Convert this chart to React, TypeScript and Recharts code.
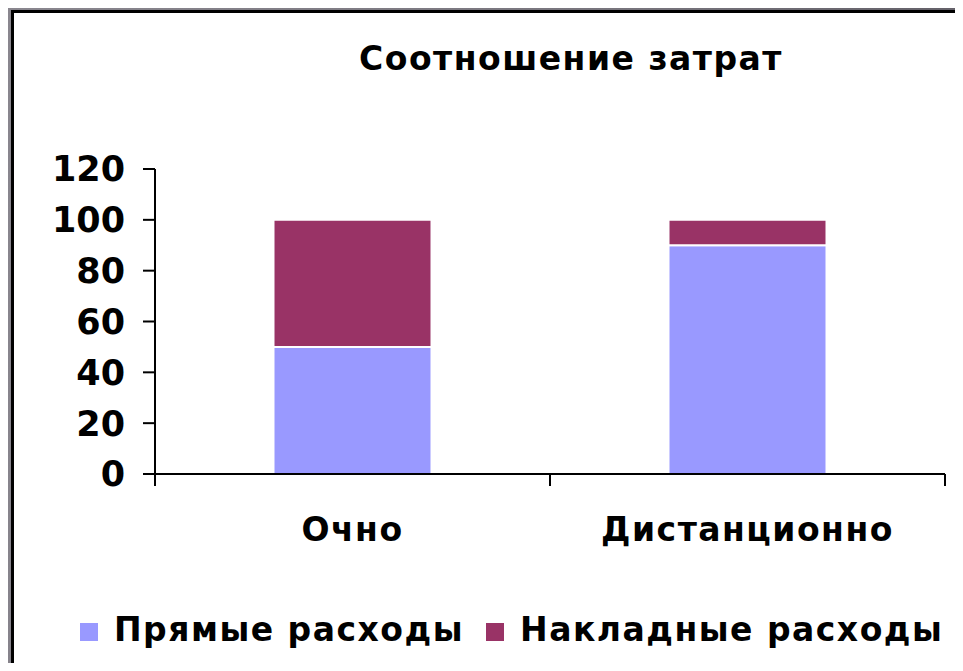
import { Bar, BarChart, Legend, XAxis, YAxis } from "recharts";

const categories = ["Очно", "Дистанционно"];
const directCosts = [50, 90];
const overheadCosts = [50, 10];
const seriesNames = ["Прямые расходы", "Накладные расходы"];
const yTicks = [0, 20, 40, 60, 80, 100, 120];

const data = categories.map((name, i) => ({
  name,
  direct: directCosts[i],
  overhead: overheadCosts[i],
}));

const FONT = "'DejaVu Sans', Verdana, sans-serif";
const W = 963;
const H = 671;
const TICK = 12;

function CategoryTick(props: any) {
  const { x, y, payload, index, visibleTicksCount } = props;
  const half = payload.offset ?? 0;
  const axisY = y - TICK;
  const isLast = index === visibleTicksCount - 1;
  return (
    <g>
      <line x1={x - half} x2={x - half} y1={axisY} y2={axisY + TICK} stroke="#000" strokeWidth={2} />
      {isLast && (
        <line x1={x + half} x2={x + half} y1={axisY} y2={axisY + TICK} stroke="#000" strokeWidth={2} />
      )}
      <text
        x={x}
        y={axisY + 67}
        textAnchor="middle"
        fontFamily={FONT}
        fontWeight="bold"
        fontSize={33}
        letterSpacing={1.5}
        fill="#000"
      >
        {payload.value}
      </text>
    </g>
  );
}

function LegendContent(props: any) {
  const items = [...(props.payload || [])].sort(
    (a: any, b: any) => seriesNames.indexOf(a.value) - seriesNames.indexOf(b.value)
  );
  return (
    <div style={{ display: "flex", alignItems: "center", height: 40 }}>
      {items.map((p: any) => (
        <div key={p.value} style={{ display: "flex", alignItems: "center", marginRight: 22 }}>
          <span
            style={{ width: 18, height: 18, background: p.color, marginRight: 16, marginTop: 6, display: "inline-block" }}
          />
          <span
            style={{
              fontFamily: FONT,
              fontWeight: "bold",
              fontSize: 33,
              letterSpacing: 1.5,
              color: "#000",
              whiteSpace: "nowrap",
            }}
          >
            {p.value}
          </span>
        </div>
      ))}
    </div>
  );
}

export default function App() {
  return (
    <div
      style={{
        position: "relative",
        margin: -8,
        width: W,
        height: H,
        overflow: "hidden",
        background: "linear-gradient(100deg, #8a878f 0%, #77747c 60%, #5d5a62 100%)",
      }}
    >
      <div
        style={{
          position: "absolute",
          left: 11,
          top: 10,
          width: W,
          height: H,
          background: "#fff",
          borderLeft: "3px solid #000",
          borderTop: "3px solid #000",
        }}
      />
      <div
        style={{
          position: "absolute",
          top: 42,
          left: 0,
          width: 1142,
          textAlign: "center",
          fontFamily: FONT,
          fontWeight: "bold",
          fontSize: 33,
          letterSpacing: 1.5,
          lineHeight: 1,
          color: "#000",
        }}
      >
        Соотношение затрат
      </div>
      <div style={{ position: "absolute", left: 0, top: 0 }}>
        <BarChart
          width={W}
          height={H}
          data={data}
          barCategoryGap="30%"
          margin={{ top: 169, right: 18, bottom: 0, left: 0 }}
        >
          <XAxis
            dataKey="name"
            height={157}
            tickLine={false}
            tickSize={TICK}
            tickMargin={0}
            axisLine={{ stroke: "#000", strokeWidth: 2 }}
            tick={<CategoryTick />}
          />
          <XAxis
            xAxisId="top"
            orientation="top"
            dataKey="name"
            height={0}
            tick={false}
            tickLine={false}
            axisLine={{ stroke: "#000", strokeWidth: 2 }}
          />
          <YAxis
            width={155}
            domain={[0, 120]}
            ticks={yTicks}
            tickSize={TICK}
            tickMargin={18}
            axisLine={{ stroke: "#000", strokeWidth: 2 }}
            tickLine={{ stroke: "#000", strokeWidth: 2 }}
            tick={{ fontFamily: FONT, fontWeight: "bold", fontSize: 35, fill: "#000" }}
          />
          <YAxis
            yAxisId="right"
            orientation="right"
            width={0}
            domain={[0, 120]}
            tick={false}
            tickLine={false}
            axisLine={{ stroke: "#000", strokeWidth: 2 }}
          />
          <Legend
            verticalAlign="bottom"
            height={40}
            content={<LegendContent />}
            wrapperStyle={{ left: 80, top: 609, bottom: "auto", width: 900 }}
          />
          <Bar dataKey="direct" name={seriesNames[0]} stackId="a" fill="#9999ff" stroke="#fff" strokeWidth={2} isAnimationActive={false} />
          <Bar dataKey="overhead" name={seriesNames[1]} stackId="a" fill="#993366" stroke="#fff" strokeWidth={2} isAnimationActive={false} />
        </BarChart>
      </div>
    </div>
  );
}
